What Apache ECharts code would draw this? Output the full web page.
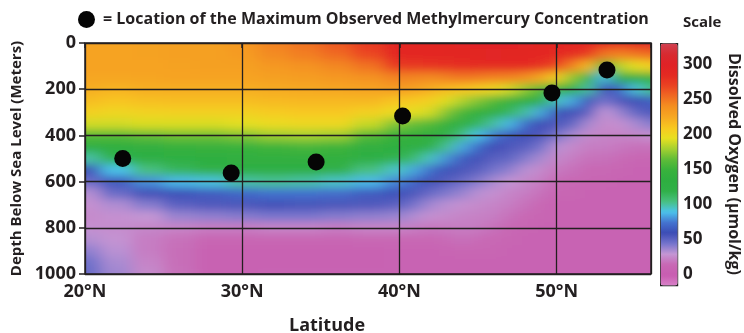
<!DOCTYPE html>
<html>
<head>
<meta charset="utf-8">
<script src="https://cdn.jsdelivr.net/npm/echarts@6/dist/echarts.min.js"></script>
<style>
  html, body { margin: 0; padding: 0; background: #fff; }
  #wrap { position: relative; width: 744px; height: 333px; overflow: hidden; }
  /* the oxygen field sits under the axes, clipped to the plot box and softened */
  #fieldClip { position: absolute; left: 85px; top: 43px; width: 566px; height: 231px; overflow: hidden; }
  #field { position: absolute; left: -40px; top: -40px; width: 646px; height: 311px; filter: url(#soft); }
  #main { position: absolute; left: 0; top: 0; width: 744px; height: 333px; }
</style>
</head>
<body>
<svg width="0" height="0" style="position:absolute">
  <filter id="soft" x="0" y="0" width="100%" height="100%">
    <feGaussianBlur stdDeviation="8 4" edgeMode="duplicate"/>
  </filter>
</svg>
<div id="wrap">
  <div id="fieldClip"><div id="field"></div></div>
  <div id="main"></div>
</div>
<script>
const latitudes = [20, 22, 24, 26, 28, 30, 32, 34, 36, 38, 40, 41, 42, 43, 44, 45, 46, 47, 48, 49, 50, 51, 52, 53, 54, 55, 56];
const depths = [0, 50, 100, 150, 200, 250, 300, 350, 400, 450, 500, 550, 600, 650, 700, 750, 800, 850, 900, 950, 1000];

// dissolved oxygen (umol/kg), one profile per latitude, depth 0 -> 1000 m
const oxygen = [
  [228, 228, 228, 226, 222, 215, 205, 190, 160, 130, 100, 62, 48, 33, 28, 26, 28, 33, 40, 46, 48],  // 20N
  [228, 228, 228, 226, 220, 212, 202, 190, 160, 135, 118, 90, 65, 48, 34, 28, 27, 29, 32, 35, 37],  // 22N
  [229, 229, 228, 227, 222, 214, 204, 192, 165, 140, 125, 105, 80, 58, 42, 30, 25, 22, 22, 24, 26], // 24N
  [230, 230, 229, 228, 222, 215, 205, 192, 168, 145, 130, 115, 88, 62, 52, 38, 24, 18, 17, 17, 18], // 26N
  [230, 230, 230, 228, 222, 215, 205, 192, 168, 148, 135, 120, 92, 66, 55, 40, 22, 12, 8, 8, 8],    // 28N
  [235, 233, 230, 228, 222, 215, 205, 194, 172, 150, 138, 125, 100, 70, 56, 42, 22, 12, 8, 8, 8],   // 30N
  [245, 242, 235, 230, 224, 217, 208, 198, 178, 152, 140, 126, 102, 74, 58, 44, 24, 12, 8, 8, 10],  // 32N
  [252, 247, 238, 232, 225, 218, 210, 200, 180, 155, 140, 125, 100, 74, 57, 44, 24, 12, 8, 8, 10],  // 34N
  [262, 255, 243, 235, 226, 218, 210, 200, 178, 152, 138, 120, 95, 72, 56, 42, 22, 12, 8, 8, 10],   // 36N
  [275, 268, 252, 238, 228, 218, 205, 188, 160, 140, 125, 105, 88, 66, 55, 40, 24, 14, 8, 8, 10],   // 38N
  [290, 288, 275, 245, 232, 212, 198, 172, 150, 135, 118, 95, 78, 62, 52, 38, 24, 14, 10, 10, 10],  // 40N
  [291, 289, 277, 244, 228, 209, 194, 166, 145, 128, 108, 84, 68, 55, 44, 33, 22, 14, 10, 10, 10],  // 41N
  [292, 290, 278, 242, 222, 205, 190, 160, 140, 120, 95, 72, 58, 48, 36, 28, 20, 14, 10, 10, 10],   // 42N
  [294, 291, 280, 246, 216, 193, 172, 145, 122, 102, 80, 62, 53, 43, 32, 26, 21, 16, 11, 10, 10],   // 43N
  [295, 292, 282, 250, 212, 182, 155, 128, 105, 85, 66, 56, 48, 38, 28, 24, 22, 18, 12, 10, 10],    // 44N
  [296, 293, 284, 248, 206, 172, 143, 115, 90, 70, 58, 52, 42, 32, 26, 23, 21, 16, 12, 10, 10],     // 45N
  [298, 295, 285, 245, 200, 160, 130, 100, 75, 60, 52, 45, 35, 28, 24, 22, 18, 14, 12, 10, 10],     // 46N
  [296, 294, 286, 245, 190, 148, 115, 88, 65, 55, 50, 40, 30, 24, 22, 18, 14, 12, 10, 10, 10],      // 47N
  [295, 292, 285, 240, 175, 135, 100, 72, 58, 52, 42, 32, 25, 22, 18, 14, 12, 10, 10, 10, 10],      // 48N
  [293, 290, 280, 225, 160, 125, 85, 60, 55, 45, 35, 26, 22, 18, 14, 12, 10, 10, 10, 10, 10],       // 49N
  [292, 286, 268, 205, 150, 95, 62, 55, 45, 32, 25, 20, 16, 12, 10, 10, 10, 10, 10, 10, 10],        // 50N
  [292, 283, 245, 175, 135, 85, 58, 50, 35, 26, 22, 18, 14, 12, 10, 10, 10, 10, 10, 10, 10],        // 51N
  [290, 275, 215, 145, 100, 62, 52, 35, 26, 22, 18, 15, 12, 10, 10, 10, 10, 10, 10, 10, 10],        // 52N
  [285, 250, 150, 88, 60, 45, 30, 26, 24, 22, 18, 14, 12, 10, 10, 10, 10, 10, 10, 10, 10],          // 53N
  [280, 245, 185, 125, 70, 55, 38, 28, 24, 20, 16, 12, 10, 10, 10, 10, 10, 10, 10, 10, 10],         // 54N
  [290, 250, 195, 135, 92, 60, 50, 35, 25, 18, 12, 10, 10, 10, 10, 10, 10, 10, 10, 10, 10],         // 55N
  [295, 255, 205, 145, 105, 68, 55, 42, 28, 18, 12, 10, 10, 10, 10, 10, 10, 10, 10, 10, 10]         // 56N
];

// maximum observed methylmercury
const mercuryLat = [22.4, 29.3, 34.7, 40.2, 49.7, 53.2];
const mercuryDepth = [500, 563, 515, 316, 216, 117];

const latTicks = [20, 30, 40, 50];
const depthTicks = [0, 200, 400, 600, 800, 1000];
const scaleTicks = [0, 50, 100, 150, 200, 250, 300];

// colour ramp from -15 to 330 in steps of 15
const oxygenColors = [
  '#d880c8', '#c85cb0', '#c868b4', '#c496d4', '#7474cc', '#3c4cb4', '#4474d0', '#4cc4ec',
  '#48c080', '#30b048', '#2eae40', '#38b23c', '#60bc38', '#a4d030', '#e8e020', '#f8c820',
  '#f6a822', '#f49020', '#f06a22', '#ea4222', '#e42a22', '#e02226', '#d82a30', '#d04050'
];

const FONT = '"Open Sans", "DejaVu Sans", sans-serif';
const ink = '#231f20';
const mercuryName = '= Location of the Maximum Observed Methylmercury Concentration';

const fieldData = [];
latitudes.forEach((lat, i) => {
  depths.forEach((d, j) => {
    fieldData.push([lat, d, oxygen[i][j], i, j]);
  });
});

const field = echarts.init(document.getElementById('field'));
field.setOption({
  animation: false,
  grid: { left: 40, top: 40, width: 566, height: 231 },
  xAxis: { type: 'value', min: 20, max: 56, show: false },
  yAxis: { type: 'value', min: 0, max: 1000, inverse: true, show: false },
  visualMap: {
    show: false, type: 'continuous', min: -15, max: 330, dimension: 2,
    inRange: { color: oxygenColors }
  },
  series: [{
    type: 'custom',
    data: fieldData,
    renderItem: function (params, api) {
      const lat = api.value(0), d = api.value(1);
      const i = api.value(3), j = api.value(4);
      const nLat = latitudes.length, nDep = depths.length;
      // each cell reaches halfway to its neighbours; edge cells run past the plot
      const x0 = i === 0 ? lat - 4 : (lat + latitudes[i - 1]) / 2;
      const x1 = i === nLat - 1 ? lat + 4 : (lat + latitudes[i + 1]) / 2;
      const y0 = j === 0 ? d - 150 : (d + depths[j - 1]) / 2;
      const y1 = j === nDep - 1 ? d + 150 : (d + depths[j + 1]) / 2;
      const p0 = api.coord([x0, y0]);
      const p1 = api.coord([x1, y1]);
      return {
        type: 'rect',
        shape: {
          x: Math.min(p0[0], p1[0]), y: Math.min(p0[1], p1[1]),
          width: Math.abs(p1[0] - p0[0]) + 1, height: Math.abs(p1[1] - p0[1]) + 1
        },
        style: { fill: api.visual('color') }
      };
    }
  }]
});

const boldText = { fontFamily: FONT, fontWeight: 'bold', color: ink };

const main = echarts.init(document.getElementById('main'));
main.setOption({
  backgroundColor: 'transparent',
  animation: false,
  textStyle: { fontFamily: FONT },
  title: [
    { text: 'Scale', left: 683, top: 15, padding: 0, textStyle: Object.assign({ fontSize: 15 }, boldText) },
    { text: 'Latitude', left: 289, top: 317, padding: 0, textStyle: Object.assign({ fontSize: 18 }, boldText) }
  ],
  legend: {
    left: 78, top: 11, padding: 0, itemWidth: 17, itemHeight: 17, itemGap: 0,
    icon: 'circle', selectedMode: false,
    textStyle: Object.assign({ fontSize: 16, padding: [0, 0, 0, 3] }, boldText),
    data: [mercuryName]
  },
  grid: [
    { left: 85, top: 43, width: 566, height: 231, show: true, borderColor: ink, borderWidth: 1.5 },
    { left: 660, top: 43, width: 17, height: 242, show: false }
  ],
  xAxis: [
    {
      gridIndex: 0, type: 'value', min: latTicks[0], max: 56, interval: 10,
      axisLine: { show: false },
      axisTick: { length: 5, lineStyle: { color: ink, width: 1.5 } },
      axisLabel: Object.assign({
        fontSize: 18, margin: 9,
        formatter: v => latTicks.includes(v) ? v + '°N' : ''
      }, boldText),
      splitLine: { show: true, lineStyle: { color: ink, width: 1.3 } }
    },
    { gridIndex: 1, type: 'value', min: 0, max: 1, show: false }
  ],
  yAxis: [
    {
      gridIndex: 0, type: 'value', inverse: true,
      min: depthTicks[0], max: depthTicks[depthTicks.length - 1], interval: 200,
      name: 'Depth Below Sea Level (Meters)', nameLocation: 'middle', nameGap: 49, nameRotate: 90,
      nameTextStyle: Object.assign({ fontSize: 15 }, boldText),
      axisLine: { show: false },
      axisTick: { show: true, length: 6, lineStyle: { color: ink, width: 1.5 } },
      axisLabel: Object.assign({ fontSize: 18, margin: 9, formatter: v => String(v) }, boldText),
      splitLine: { show: true, lineStyle: { color: ink, width: 1.3 } }
    },
    {
      // scale labels beside the colour bar, same range as the visual map
      gridIndex: 1, type: 'value', position: 'right', min: -15, max: 330,
      name: 'Dissolved Oxygen (µmol/kg)', nameLocation: 'middle', nameGap: 49, nameRotate: -90,
      nameTextStyle: Object.assign({ fontSize: 16 }, boldText),
      axisLine: { show: false }, axisTick: { show: false }, splitLine: { show: false },
      axisLabel: Object.assign({ fontSize: 17, margin: 6, customValues: scaleTicks }, boldText)
    }
  ],
  visualMap: {
    type: 'continuous', min: -15, max: 330, seriesIndex: [],
    left: 660, top: 43, itemWidth: 17, itemHeight: 242, padding: 0,
    calculable: false, hoverLink: false,
    borderColor: ink, borderWidth: 1.2,
    inRange: { color: oxygenColors }
  },
  series: [{
    name: mercuryName,
    type: 'scatter',
    xAxisIndex: 0, yAxisIndex: 0,
    symbolSize: 17,
    itemStyle: { color: '#050505', opacity: 1 },
    data: mercuryLat.map((lat, k) => [lat, mercuryDepth[k]]),
    z: 5
  }]
});
</script>
</body>
</html>
